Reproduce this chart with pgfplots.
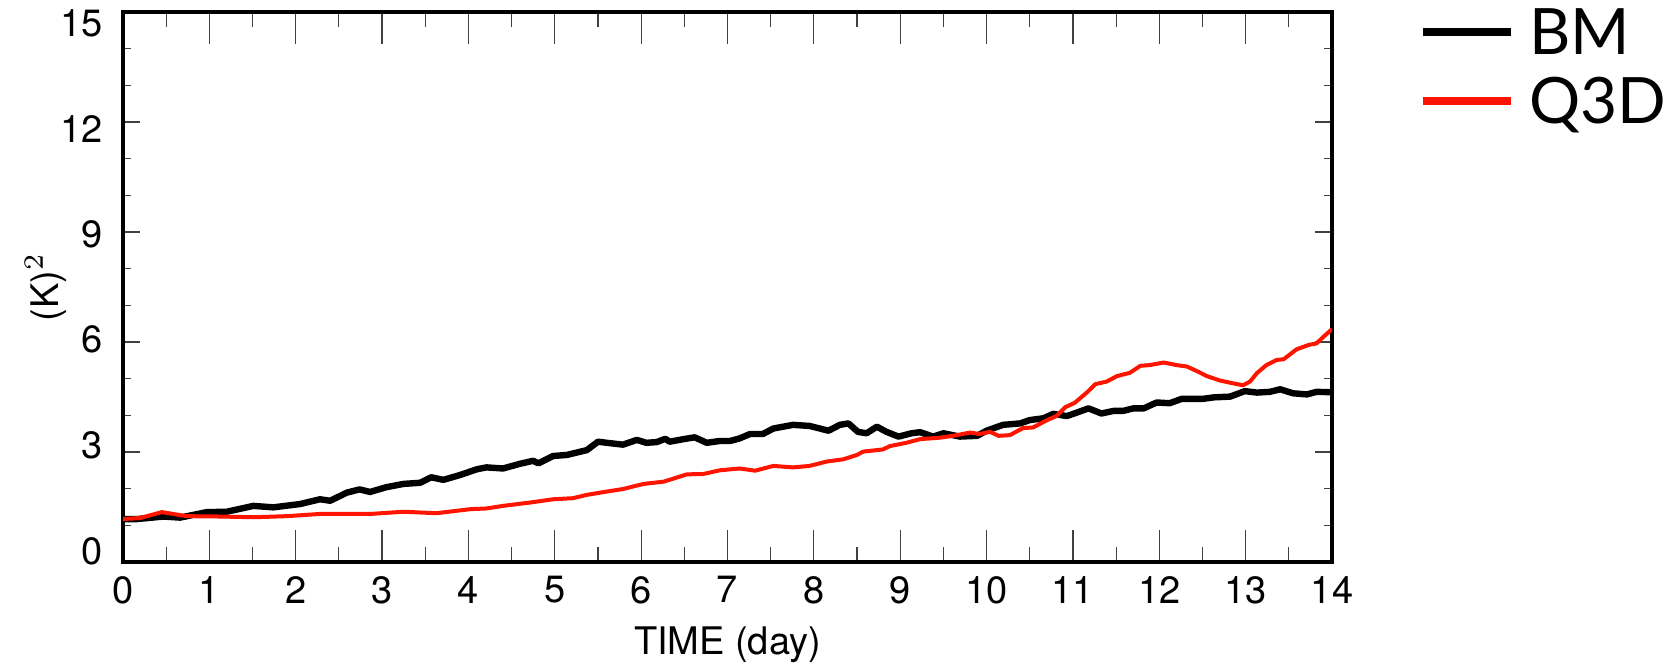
\documentclass[border=0pt]{standalone}
\usepackage{pgfplots}
\pgfplotsset{compat=1.18}
\usepackage{fontspec}
\setmainfont{TeX Gyre Heros}
\newfontfamily\legfont{Lato}
\definecolor{q3dred}{RGB}{255,20,0}

\pgfplotsset{
  frame/.style={
    scale only axis, width=302.25pt, height=137.5pt,
    xmin=0, xmax=14, ymin=0, ymax=15,
    tick align=inside,
    tick style={line width=0.3pt, black!75},
    /pgf/number format/assume math mode=true,
    tick label style={font=\fontsize{9.5}{11}\selectfont},
  },
}

\begin{document}
\begin{tikzpicture}
% y ticks only (shorter ticks than on the x axis)
\begin{axis}[frame,
  axis line style={draw=none},
  xtick=\empty,
  ytick={0,3,...,15}, minor y tick num=2,
  yticklabels={},
  major tick length=4.2pt, minor tick length=2pt,
]
\end{axis}
% y tick labels, set slightly inward as in the original
\begin{axis}[frame,
  axis line style={draw=none},
  xtick=\empty,
  ytick={0.3,3.18,6.06,8.94,11.82,14.7},
  yticklabels={0,3,6,9,12,15},
  major tick length=0pt, ytick style={draw=none},
  yticklabel style={xshift=-1.5pt},
]
\end{axis}
\begin{axis}[frame,
  axis line style={line width=1pt},
  xtick={0,1,...,14}, minor x tick num=1,
  ytick=\empty,
  major tick length=8pt, minor tick length=3.75pt,
  label style={font=\fontsize{9.5}{11}\selectfont},
  xlabel={TIME (day)}, ylabel={(K)$^2$},
  xlabel style={at={(axis description cs:0.5,-0.151)}, anchor=center},
  ylabel style={at={(axis description cs:-0.064,0.5)}, anchor=center},
  legend style={at={(axis description cs:1.0711,1.007)}, anchor=north west,
    draw=none, fill=none, inner sep=0pt, row sep=5.75pt, column sep=3.6pt,
    nodes={inner sep=0pt, text height=11.5pt, text depth=0pt,
      font=\legfont\fontsize{16}{16}\selectfont}},
  legend cell align=left,
  legend image code/.code={\draw[#1, line width=2pt] (0pt,0pt) -- (22pt,0pt);},
]
\addplot[black, line width=1.6pt, line join=round] coordinates {
(0,1.17) (0.16,1.17) (0.47,1.24) (0.66,1.21) (0.97,1.36) (1.20,1.37)
(1.51,1.53) (1.74,1.49) (2.05,1.58) (2.28,1.71) (2.40,1.67) (2.59,1.89)
(2.74,1.98) (2.86,1.91) (3.05,2.04) (3.25,2.13) (3.44,2.16) (3.57,2.31)
(3.71,2.24) (3.90,2.37) (4.10,2.53) (4.21,2.58) (4.40,2.55) (4.60,2.68)
(4.75,2.76) (4.81,2.69) (4.98,2.89) (5.14,2.92) (5.37,3.05) (5.50,3.28)
(5.64,3.24) (5.79,3.20) (5.95,3.33) (6.06,3.25) (6.18,3.27) (6.28,3.36)
(6.33,3.28) (6.49,3.35) (6.62,3.40) (6.76,3.25) (6.91,3.30) (7.03,3.30)
(7.14,3.37) (7.26,3.49) (7.41,3.49) (7.53,3.64) (7.76,3.74) (7.95,3.71)
(8.17,3.58) (8.30,3.74) (8.40,3.78) (8.51,3.55) (8.61,3.51) (8.73,3.69)
(8.84,3.55) (8.98,3.42) (9.13,3.51) (9.23,3.54) (9.38,3.42) (9.50,3.51)
(9.69,3.42) (9.89,3.44) (10.00,3.58) (10.19,3.74) (10.39,3.78) (10.50,3.87)
(10.66,3.92) (10.77,4.04) (10.93,3.98) (11.04,4.07) (11.18,4.19) (11.33,4.05)
(11.47,4.12) (11.58,4.12) (11.70,4.19) (11.82,4.19) (11.97,4.35) (12.12,4.33)
(12.26,4.45) (12.51,4.45) (12.63,4.49) (12.82,4.51) (12.99,4.66) (13.13,4.62)
(13.28,4.64) (13.40,4.71) (13.55,4.60) (13.71,4.57) (13.82,4.64) (14.00,4.63)
};
\addlegendentry{BM}
\addplot[q3dred, line width=1pt, line join=round] coordinates {
(0,1.17) (0.2,1.20) (0.45,1.36) (0.74,1.25) (1.12,1.24) (1.51,1.22)
(1.90,1.25) (2.28,1.31) (2.86,1.31) (3.25,1.37) (3.63,1.33) (4.02,1.44)
(4.21,1.46) (4.40,1.53) (4.71,1.62) (4.98,1.71) (5.21,1.74) (5.37,1.83)
(5.60,1.92) (5.79,1.99) (6.03,2.13) (6.26,2.19) (6.53,2.39) (6.72,2.40)
(6.91,2.50) (7.14,2.55) (7.32,2.49) (7.53,2.62) (7.76,2.58) (7.95,2.62)
(8.15,2.74) (8.34,2.80) (8.50,2.92) (8.57,3.01) (8.80,3.07) (8.88,3.16)
(9.07,3.25) (9.23,3.35) (9.46,3.39) (9.61,3.44) (9.81,3.53) (9.92,3.49)
(10.04,3.55) (10.14,3.44) (10.27,3.46) (10.42,3.65) (10.54,3.67) (10.70,3.87)
(10.81,3.98) (10.91,4.22) (11.02,4.34) (11.16,4.62) (11.26,4.85) (11.39,4.92)
(11.51,5.07) (11.66,5.16) (11.78,5.35) (11.89,5.37) (12.05,5.44) (12.20,5.37)
(12.32,5.33) (12.45,5.19) (12.55,5.07) (12.70,4.95) (12.86,4.87) (12.97,4.82)
(13.05,4.92) (13.13,5.15) (13.24,5.37) (13.36,5.51) (13.44,5.53) (13.59,5.80)
(13.73,5.92) (13.82,5.96) (13.90,6.14) (14.00,6.35)
};
\addlegendentry{Q3D}
\end{axis}
\pgfresetboundingbox
\path[use as bounding box] (-30.75pt,-27pt) rectangle (388.5pt,140.5pt);
\end{tikzpicture}
\end{document}
